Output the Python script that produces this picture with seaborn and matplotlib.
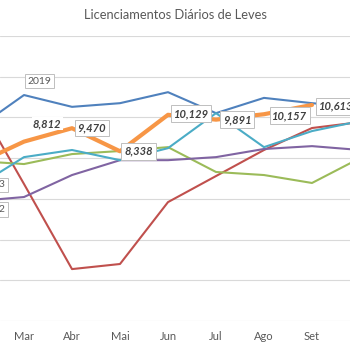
import numpy as np
import pandas as pd
import matplotlib
matplotlib.use("Agg")
import matplotlib.pyplot as plt
import seaborn as sns

# ---- data ----
MONTHS = ["Jan", "Fev", "Mar", "Abr", "Mai", "Jun", "Jul", "Ago", "Set", "Out", "Nov", "Dez"]
meses = ["Fev", "Mar", "Abr", "Mai", "Jun", "Jul", "Ago", "Set", "Out"]
meses_visiveis = ["Mar", "Abr", "Mai", "Jun", "Jul", "Ago", "Set"]
s2019 = [9430, 11100, 10520, 10700, 11240, 10210, 10960, 10700, 10500]
s2020 = [10850, 6730, 2550, 2800, 5840, 7120, 8400, 9480, 9770]
s2021 = [7860, 7710, 8200, 8350, 8540, 7320, 7170, 6780, 8000]
s2022 = [5890, 6090, 7170, 7900, 7900, 8050, 8450, 8590, 8400]
s2023 = [6580, 8050, 8400, 7900, 8490, 10210, 8540, 9330, 9820]
s2024 = [7710, 8812, 9470, 8338, 10129, 9891, 10157, 10613, np.nan]
anos = ["2019", "2020", "2021", "2022", "2023", "2024"]
series = [s2019, s2020, s2021, s2022, s2023, s2024]
cores = ["#4F81BD", "#C0504D", "#9BBB59", "#8064A2", "#4BACC6", "#F79646"]
larguras = [1.5, 1.5, 1.5, 1.5, 1.5, 3.0]
titulo = "Licenciamentos Diários de Leves"

rows = []
for ano, vals in zip(anos, series):
    for m, v in zip(meses, vals):
        rows.append({"ano": ano, "mes": m, "idx": MONTHS.index(m), "valor": v})
df = pd.DataFrame(rows)

sns.set_theme(style="white")
plt.rcParams["font.family"] = ["Lato", "DejaVu Sans"]

fig = plt.figure(figsize=(3.5, 3.5), dpi=100)
ax = fig.add_axes([0.0, (350 - 321) / 350, 1.0, (321 - 36) / 350])

for ano, cor, lw in zip(anos, cores, larguras):
    sub = df[df["ano"] == ano].dropna()
    sns.lineplot(data=sub, x="idx", y="valor", color=cor, linewidth=lw, ax=ax,
                 legend=False, zorder=3)

ax.set_yticks(np.arange(0, 14001, 2000))
ax.set_yticklabels([])
ax.set_xticks([MONTHS.index(m) for m in meses_visiveis])
ax.set_xticklabels(meses_visiveis)
ax.set_xlim(1.5, 1.5 + 350 / 48)
ax.set_ylim(0, 14000)
ax.tick_params(axis="x", length=0, pad=7, labelsize=8, colors="#595959")
ax.tick_params(axis="y", length=0)
ax.grid(axis="y", color="#D9D9D9", linewidth=0.8, zorder=0)
ax.grid(axis="x", visible=False)
for sp in ax.spines.values():
    sp.set_visible(False)
ax.set_xlabel("")
ax.set_ylabel("")

fig.text(0.5, 1 - 15 / 350, titulo, ha="center", va="center", fontsize=9.3, color="#595959")

box = dict(boxstyle="square,pad=0.25", fc="white", ec="#BFBFBF", lw=0.7)
# data labels for 2024
offs = [None, (6.5, 13), (4, 0), (3, 0), (4, 1), (5, 0), (6, -1), (5, -1), None]
for m, v, o in zip(meses, s2024, offs):
    if o is None or np.isnan(v):
        continue
    b = dict(boxstyle="square,pad=0.1", fc="white", ec="none") if m == "Mar" else box
    ax.annotate(f"{v:,.0f}", xy=(MONTHS.index(m), v), xytext=o, textcoords="offset points",
                ha="left", va="center", fontsize=8, fontweight="bold", fontstyle="italic",
                color="#404040", bbox=b, annotation_clip=False, zorder=5)

# series-name callouts
ax.annotate("2019", xy=(MONTHS.index("Mar"), s2019[1]), xytext=(11, 10), textcoords="offset points",
            ha="center", va="center", fontsize=7.5, color="#595959", bbox=box,
            annotation_clip=False, zorder=5)
ax.annotate("2023", xy=(MONTHS.index("Fev"), s2023[0]), xytext=(21, 1.5), textcoords="offset points",
            ha="right", va="center", fontsize=7.5, color="#595959", bbox=box,
            annotation_clip=False, zorder=5)
ax.annotate("2022", xy=(MONTHS.index("Fev"), s2022[0]), xytext=(21, -6), textcoords="offset points",
            ha="right", va="center", fontsize=7.5, color="#595959", bbox=box,
            annotation_clip=False, zorder=5)

fig.savefig("out.png", dpi=100)
